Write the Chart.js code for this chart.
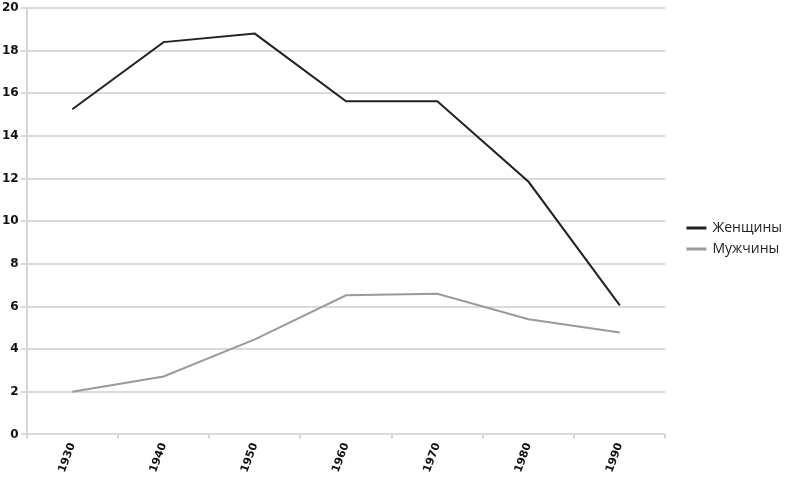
<!DOCTYPE html>
<html>
<head>
<meta charset="utf-8">
<script src="https://cdn.jsdelivr.net/npm/chart.js@4"></script>
<style>
  html, body { margin: 0; padding: 0; background: #fff; }
  #wrap { width: 790px; height: 477px; }
</style>
</head>
<body>
<div id="wrap"><canvas id="myChart"></canvas></div>
<script>
const years = ['1930', '1940', '1950', '1960', '1970', '1980', '1990'];
const women = [15.25, 18.4, 18.8, 15.63, 15.63, 11.85, 6.05];
const men = [2.0, 2.72, 4.46, 6.53, 6.6, 5.4, 4.78];
const yTicks = [0, 2, 4, 6, 8, 10, 12, 14, 16, 18, 20];

// widen the legend box a bit and push its items right, like the original
const legendShift = {
    id: 'legendShift',
    beforeUpdate(chart) {
        const legend = chart.legend;
        if (!legend || legend._patched) return;
        legend._patched = true;
        const fit = legend.fit;
        legend.fit = function() {
            fit.call(this);
            this.width += 13;
        };
        const draw = legend.draw;
        legend.draw = function() {
            const c = this.ctx;
            c.save();
            c.translate(15, 0);
            draw.call(this);
            c.restore();
        };
    }
};

const ctx = document.getElementById('myChart').getContext('2d');
new Chart(ctx, {
    type: 'line',
    data: {
        labels: years,
        datasets: [{
            label: 'Женщины',
            data: women,
            borderColor: '#222',
            backgroundColor: '#222',
            borderWidth: 2,
            pointRadius: 0,
            tension: 0
        }, {
            label: 'Мужчины',
            data: men,
            borderColor: '#9a9a9a',
            backgroundColor: '#9a9a9a',
            borderWidth: 2,
            pointRadius: 0,
            tension: 0
        }]
    },
    plugins: [legendShift],
    options: {
        responsive: true,
        maintainAspectRatio: false,
        animation: false,
        plugins: {
            tooltip: { enabled: false },
            legend: {
                position: 'right',
                labels: {
                    boxWidth: 18,
                    boxHeight: 1,
                    padding: 7,
                    color: '#222',
                    font: { family: 'Open Sans', size: 14 }
                }
            }
        },
        scales: {
            x: {
                offset: true,
                grid: {
                    offset: true,
                    tickLength: 4,
                    color: c => c.index === years.length ? '#dadada' : 'rgba(0,0,0,0)',
                    tickColor: '#d6d6d6',
                    lineWidth: 2
                },
                border: { display: false },
                ticks: {
                    minRotation: 70,
                    maxRotation: 70,
                    color: '#111',
                    padding: 3,
                    font: { family: 'DejaVu Sans', size: 11, weight: 'bold', lineHeight: 1 }
                }
            },
            y: {
                min: 0,
                max: 20,
                afterBuildTicks: axis => { axis.ticks = yTicks.map(v => ({ value: v })); },
                grid: {
                    color: '#dadada',
                    lineWidth: 2,
                    tickLength: 6
                },
                border: { display: true, color: '#d6d6d6', width: 2 },
                ticks: {
                    color: '#111',
                    padding: 2,
                    font: { family: 'DejaVu Sans', size: 12, weight: 'bold', lineHeight: 1 }
                }
            }
        }
    }
});
</script>
</body>
</html>
